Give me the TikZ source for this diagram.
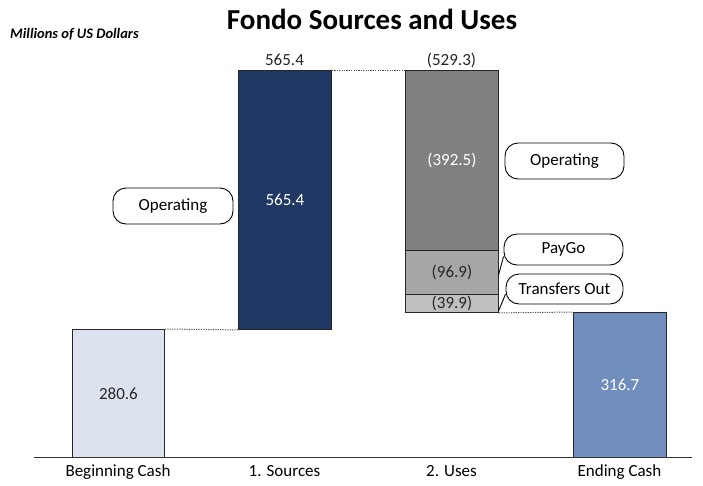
\documentclass[tikz,border=0pt]{standalone}
\usepackage{fontspec}
\setmainfont{Carlito}
\usetikzlibrary{calc}
\definecolor{begc}{HTML}{DCE3EF}
\definecolor{srcc}{HTML}{203864}
\definecolor{opc}{HTML}{808080}
\definecolor{pgc}{HTML}{A6A6A6}
\definecolor{toc}{HTML}{BFBFBF}
\definecolor{endc}{HTML}{6F8EBE}
\definecolor{txtc}{HTML}{262626}
\begin{document}
\begin{tikzpicture}[x=1pt,y=-1pt,
  bar/.style={draw=black!85,line width=0.9pt,inner sep=0,anchor=north west,minimum width=93pt,font=\fontsize{17}{19}\selectfont,text=txtc},
  val/.style={font=\fontsize{17}{19}\selectfont,text=txtc,anchor=base,inner sep=0},
  cat/.style={font=\fontsize{17}{19}\selectfont,text=black,anchor=base,inner sep=0},
  callout/.style={draw=black,line width=0.9pt,fill=white,rounded corners=13pt,inner sep=0,font=\fontsize{17}{19}\selectfont,text=black},
  conn/.style={draw=black!70,dash pattern=on 1.2pt off 1.2pt,line width=1pt},
  tail/.style={draw=black,line width=0.9pt}
]
\useasboundingbox (0,0) rectangle (703,485);
% title
\node[font=\fontsize{29}{33}\selectfont\bfseries,text=black,anchor=base] (title) at (372,29) {Fondo Sources and Uses};
\node[font=\fontsize{14.5}{17}\selectfont\bfseries\itshape,text=black,anchor=base west,inner sep=0] (units) at (10,38.5) {Millions of US Dollars};
% bars
\node[bar,fill=begc,minimum width=92pt,minimum height=128pt] (b1) at (72,329) {280.6};
\node[bar,fill=srcc,minimum height=259pt,text=white] (b2) at (238,70) {565.4};
\node[bar,fill=opc,minimum height=180pt,text=white] (u1) at (405,70) {(392.5)};
\node[bar,fill=pgc,minimum height=44pt] (u2) at (405,250) {(96.9)};
\node[bar,fill=toc,minimum height=18pt] (u3) at (405,294) {(39.9)};
\node[bar,fill=endc,minimum height=145pt,text=white] (b4) at (573,312) {316.7};
% axis
\coordinate (axl) at (34,457);
\coordinate (axr) at (692,457);
\draw[black!80,line width=1pt] (axl) -- (axr);
% top values
\node[val] (t2) at (284.5,65.5) {565.4};
\node[val] (t3) at (451.5,65.5) {(529.3)};
% connectors
\draw[conn] (b1.north east) -- (b2.south west);
\draw[conn] (b2.north east) -- (u1.north west);
\draw[conn] (u3.south east) -- (b4.north west);
% categories
\node[cat] (c1) at (118,476) {Beginning Cash};
\node[cat] (c2) at (284.5,476) {1. Sources};
\node[cat] (c3) at (451.5,476) {2. Uses};
\node[cat] (c4) at (619.5,476) {Ending Cash};
% callouts
\node[callout,minimum width=120pt,minimum height=36pt] (co1) at (173,206) {Operating};
\node[callout,minimum width=119pt,minimum height=36pt] (co2) at (564.5,161) {Operating};
\coordinate (pgtip) at (498.5,275);
\coordinate (totip) at (498.5,311);
\node[callout,minimum width=119pt,minimum height=31pt] (co3) at (563.5,249.5) {PayGo};
\node[callout,minimum width=117pt,minimum height=30pt] (co4) at (564.5,289) {Transfers Out};
\draw[tail] ($(co3.west)+(0,7)$) -- (pgtip);
\draw[tail] ($(co4.west)+(0,5)$) -- (totip);
\end{tikzpicture}
\end{document}
